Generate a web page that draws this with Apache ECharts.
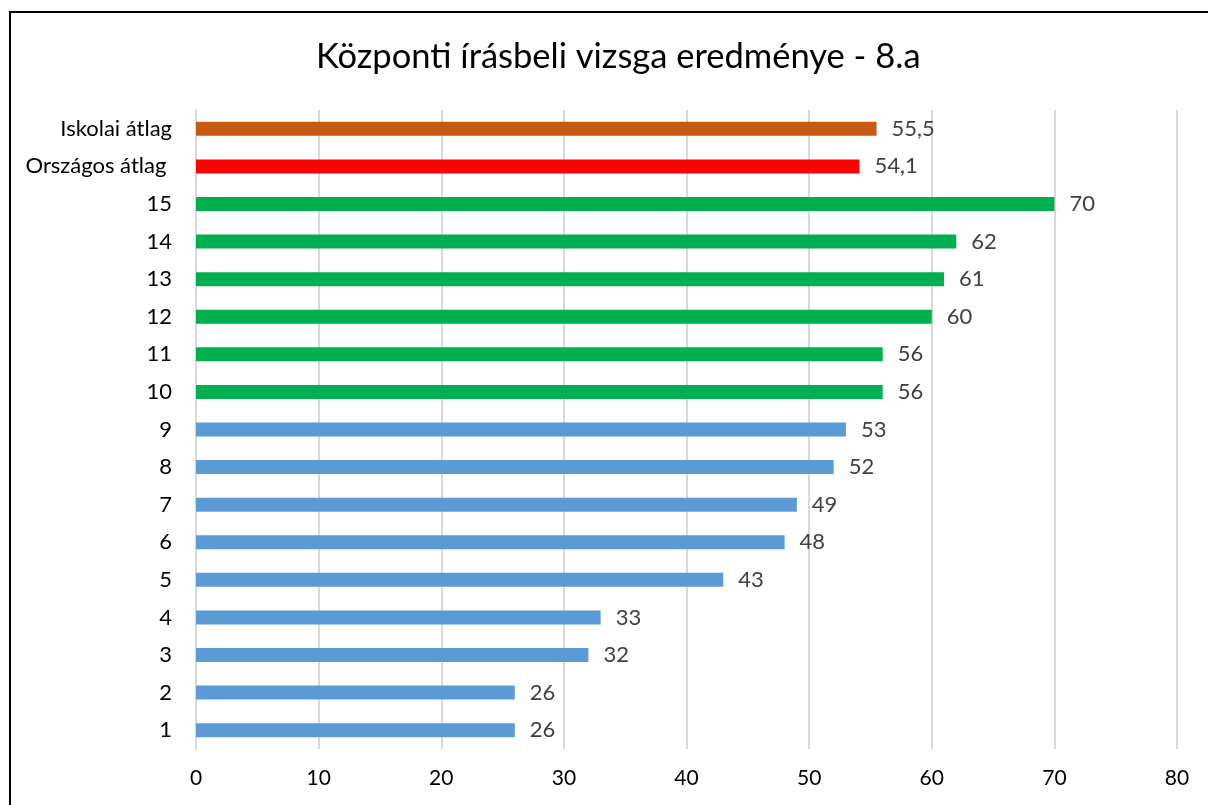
<!DOCTYPE html>
<html>
<head>
<meta charset="utf-8">
<script src="https://cdn.jsdelivr.net/npm/echarts@6/dist/echarts.min.js"></script>
<style>
  html, body { margin: 0; padding: 0; background: #fff; }
  #frame {
    position: absolute; left: 9px; top: 11px; width: 1300px; height: 900px;
    border: 2px solid #000; box-sizing: border-box;
  }
  #main { position: absolute; left: 0; top: 0; width: 1208px; height: 805px; }
</style>
</head>
<body>
<div id="frame"></div>
<div id="main"></div>
<script>
// adatok (alulról felfelé)
const categories = ['1', '2', '3', '4', '5', '6', '7', '8', '9', '10', '11', '12', '13', '14', '15', 'Országos átlag ', 'Iskolai átlag']
const scores = [26, 26, 32, 33, 43, 48, 49, 52, 53, 56, 56, 60, 61, 62, 70, 54.1, 55.5]
const xTicks = [0, 10, 20, 30, 40, 50, 60, 70, 80]

const chart = echarts.init(document.getElementById('main'))

function barColor(name) {
  if (name.indexOf('Iskolai') === 0) return '#C55A11'
  if (name.indexOf('Országos') === 0) return '#FF0000'
  return Number(name) >= 10 ? '#00B050' : '#5B9BD5'
}

chart.setOption({
  animation: false,
  textStyle: { fontFamily: 'Lato' },
  title: {
    text: 'Központi írásbeli vizsga eredménye - 8.a',
    left: 311,
    top: 34,
    textStyle: { fontFamily: 'Lato', fontSize: 34.5, fontWeight: 'normal', color: '#000' }
  },
  grid: { left: 196, right: 31, top: 110, bottom: 56 },
  xAxis: {
    type: 'value',
    min: xTicks[0],
    max: xTicks[xTicks.length - 1],
    interval: 10,
    axisLine: { show: false },
    axisTick: { show: false },
    axisLabel: { fontSize: 21, color: '#000', margin: 19 },
    splitLine: { lineStyle: { color: '#d9d9d9', width: 2 } }
  },
  yAxis: {
    type: 'category',
    data: categories,
    axisLine: { show: true, lineStyle: { color: '#d9d9d9', width: 2 } },
    axisTick: { show: false },
    axisLabel: { fontSize: 22, color: '#000', margin: 24 }
  },
  series: [{
    type: 'bar',
    barWidth: 14,
    data: scores.map((v, i) => ({
      value: v,
      itemStyle: { color: barColor(categories[i]) }
    })),
    label: {
      show: true,
      position: 'right',
      distance: 15,
      fontSize: 22,
      color: '#404040',
      formatter: p => String(p.value).replace('.', ',')
    }
  }]
})
</script>
</body>
</html>
